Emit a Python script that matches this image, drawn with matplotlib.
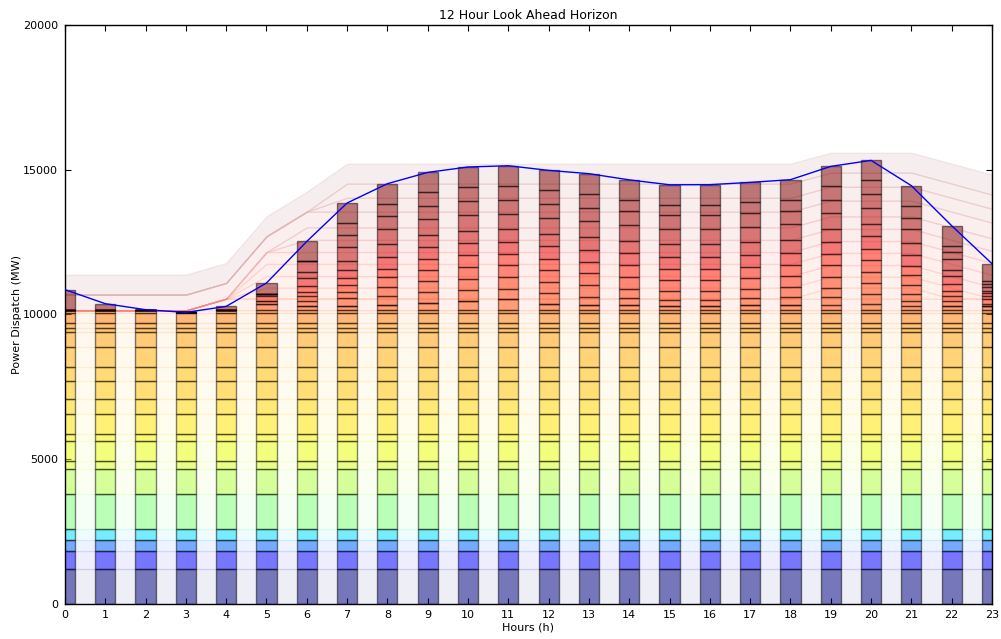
import numpy as np
import matplotlib
matplotlib.use("Agg")
import matplotlib.pyplot as plt

hours = list(range(24))

# Baseload units (MW), dispatched flat over the horizon, in merit order
base_mw = [1219, 622, 380, 380, 1209, 864, 276, 691, 242, 691,
           518, 621, 484, 691, 518, 138, 173, 345]
# Last baseload unit backs down at the overnight trough
swing_capacity_mw = 79
swing_mw = [79, 79, 79, 10, 79, 79, 79, 79, 79, 79, 79, 79,
            79, 79, 79, 79, 79, 79, 79, 79, 79, 79, 79, 79]

# Peaking units: rated capacity and commitment schedule (1 = online)
peak_capacity_mw = [405, 380, 380, 400, 420, 410, 420, 430, 545, 480, 489, 690]
peak_online = [
    "000011111111111111111111",
    "000000000000000000011100",
    "000001111111111111111110",
    "000001111111111111111111",
    "000001111111111111111111",
    "000001111111111111111111",
    "000000111111111111111111",
    "000000111111111111111111",
    "111111111111111111111111",
    "000000011111111111111111",
    "000000011111111111111111",
    "111111111111111111111111",
]

# Peaking unit dispatch (MW) per hour
peak_a = [0, 0, 0, 0, 0, 232, 139, 139, 173, 272, 334, 377, 217, 173, 173, 139, 139, 173, 173, 173, 222, 139, 139, 139]
peak_b = [0, 0, 0, 0, 0, 0, 0, 0, 0, 0, 0, 0, 0, 0, 0, 0, 0, 0, 0, 300, 340, 173, 0, 0]
peak_c = [0, 0, 0, 0, 0, 80, 173, 290, 320, 360, 370, 370, 370, 300, 250, 230, 234, 250, 280, 300, 370, 250, 173, 0]
peak_d = [0, 0, 0, 0, 0, 0, 172, 194, 314, 380, 395, 395, 395, 395, 330, 300, 300, 320, 350, 380, 395, 300, 172, 80]
peak_e = [0, 0, 0, 0, 0, 172, 138, 265, 330, 390, 410, 410, 410, 410, 410, 380, 380, 380, 390, 400, 410, 350, 200, 172]
peak_f = [0, 0, 0, 0, 0, 94, 231, 232, 300, 360, 400, 400, 400, 400, 400, 380, 380, 380, 380, 400, 400, 330, 231, 94]
peak_g = [0, 0, 0, 0, 0, 0, 266, 286, 420, 420, 420, 420, 420, 420, 420, 420, 420, 420, 420, 420, 420, 380, 266, 100]
peak_h = [0, 0, 0, 0, 0, 0, 207, 311, 430, 430, 430, 430, 430, 430, 430, 430, 430, 430, 430, 430, 430, 400, 207, 80]
peak_i = [27, 0, 0, 0, 0, 0, 390, 480, 520, 545, 545, 545, 545, 545, 545, 545, 545, 545, 545, 545, 545, 500, 390, 139]
peak_j = [0, 0, 0, 0, 0, 0, 0, 423, 440, 460, 480, 480, 480, 480, 480, 480, 480, 480, 480, 480, 480, 380, 240, 100]
peak_k = [0, 0, 0, 0, 0, 0, 0, 400, 440, 460, 480, 480, 480, 480, 381, 345, 345, 354, 377, 457, 480, 416, 218, 100]
peak_l = [690, 232, 25, 0, 139, 369, 667, 690, 690, 690, 690, 690, 690, 690, 690, 690, 690, 690, 690, 690, 690, 690, 690, 610]
peak_dispatch = [peak_a, peak_b, peak_c, peak_d, peak_e, peak_f,
                 peak_g, peak_h, peak_i, peak_j, peak_k, peak_l]

# Colormap position for each unit (cheap -> expensive)
shade = [0.0, 0.11, 0.22, 0.34, 0.50, 0.57, 0.61, 0.635, 0.65, 0.665,
         0.68, 0.70, 0.71, 0.725, 0.74, 0.75, 0.76, 0.78, 0.80,
         0.83, 0.84, 0.85, 0.86, 0.875, 0.89, 0.91, 0.93, 0.95, 0.965, 0.98, 1.0]

n_h = len(hours)
capacity = [np.full(n_h, float(mw)) for mw in base_mw]
capacity.append(np.full(n_h, float(swing_capacity_mw)))
for cap, online in zip(peak_capacity_mw, peak_online):
    capacity.append(cap * np.array([int(c) for c in online], dtype=float))

dispatch = [np.full(n_h, float(mw)) for mw in base_mw]
dispatch.append(np.array(swing_mw, dtype=float))
for d in peak_dispatch:
    dispatch.append(np.array(d, dtype=float))

cmap = plt.get_cmap("jet")
colors = [cmap(s) for s in shade]

plt.rcParams.update({
    "font.family": "DejaVu Sans",
    "font.size": 8,
    "xtick.direction": "in",
    "ytick.direction": "in",
    "xtick.top": True,
    "ytick.right": True,
    "xtick.major.size": 4,
    "ytick.major.size": 4,
    "xtick.major.pad": 4,
    "ytick.major.pad": 5,
    "axes.linewidth": 1.0,
})

fig = plt.figure(figsize=(10.01, 6.39), dpi=100)
ax = fig.add_axes([0.0649, 0.0548, 0.9261, 0.9061])

# committed capacity envelope, one translucent band per unit
lower = np.zeros(n_h)
for cap, c in zip(capacity, colors):
    upper = lower + cap
    ax.fill_between(hours, lower, upper, facecolor=c, edgecolor=c,
                    alpha=0.065, linewidth=1.0, zorder=1)
    lower = upper

# stacked dispatch bars
bottom = np.zeros(n_h)
for d, c in zip(dispatch, colors):
    ax.bar(hours, d, width=0.5, bottom=bottom, color=c, alpha=0.5,
           edgecolor="k", linewidth=1.0, zorder=2)
    bottom = bottom + d

# system demand
ax.plot(hours, bottom, color="blue", linewidth=1.0, zorder=3)

ax.set_xlim(0, 23)
ax.set_ylim(0, 20000)
ax.set_xticks(hours)
ax.set_yticks([0, 5000, 10000, 15000, 20000])
ax.set_xlabel("Hours (h)", fontsize=8, labelpad=2)
ax.set_ylabel("Power Dispatch (MW)", fontsize=8, labelpad=1)
ax.set_title("12 Hour Look Ahead Horizon", fontsize=9, pad=4)

fig.savefig("out.png", dpi=100)
